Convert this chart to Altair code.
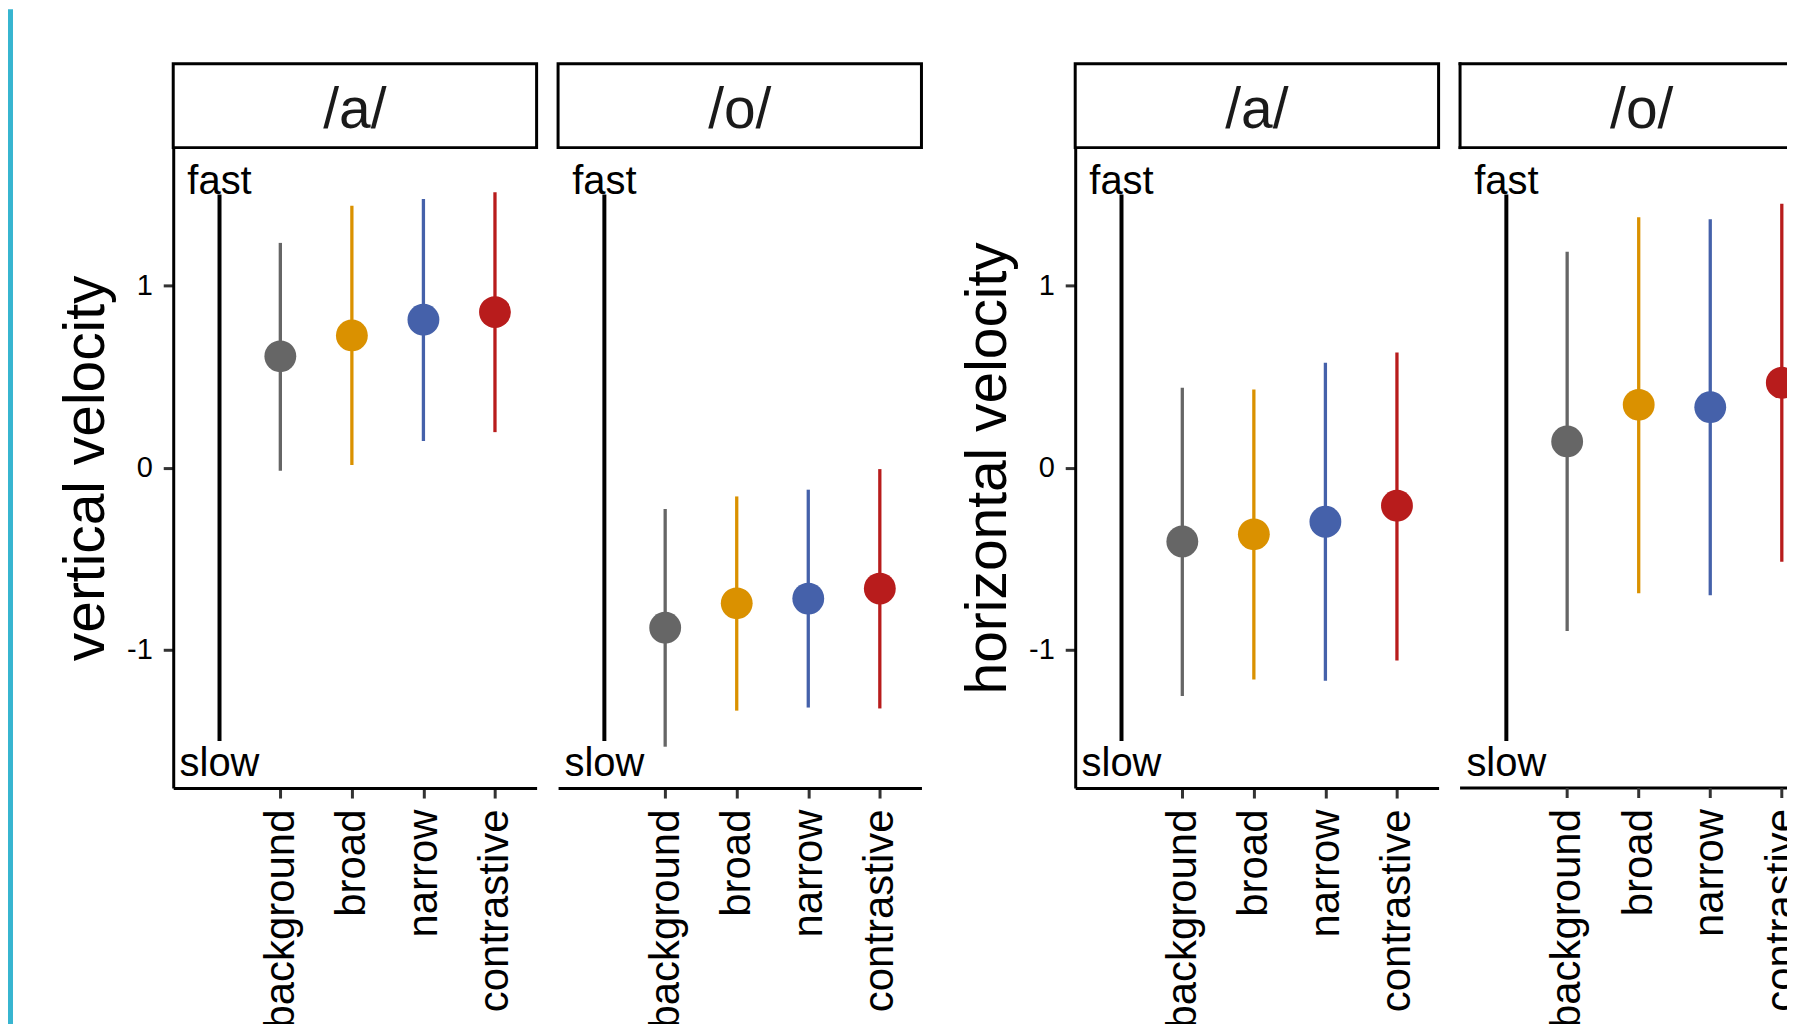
import altair as alt
import pandas as pd

# ---------------- data ----------------
focus = ["background", "broad", "narrow", "contrastive"]
focus_colors = ["#666666", "#DA9100", "#4561AA", "#B81C1C"]
vowels = ["/a/", "/o/"]
measures = ["vertical velocity", "horizontal velocity"]

vert_a_est = [0.612, 0.727, 0.813, 0.855]
vert_a_lo = [-0.016, 0.016, 0.148, 0.196]
vert_a_hi = [1.235, 1.439, 1.476, 1.513]

vert_o_est = [-0.878, -0.744, -0.718, -0.663]
vert_o_lo = [-1.531, -1.333, -1.316, -1.321]
vert_o_hi = [-0.226, -0.157, -0.120, -0.007]

horiz_a_est = [-0.404, -0.365, -0.296, -0.208]
horiz_a_lo = [-1.252, -1.162, -1.169, -1.058]
horiz_a_hi = [0.439, 0.430, 0.577, 0.633]

horiz_o_est = [0.145, 0.346, 0.333, 0.467]
horiz_o_lo = [-0.896, -0.688, -0.700, -0.515]
horiz_o_hi = [1.187, 1.376, 1.365, 1.450]

# fast/slow guide line
guide_x = [0.15]
guide_lo = [-1.5]
guide_hi = [1.5]
guide_labels = ["fast", "slow"]
guide_label_y = [1.505, -1.69]

y_ticks = [-1, 0, 1]

# ---------------- layout constants ----------------
W = 364            # full panel width
H = 641.5          # panel height
X_DOMAIN = [-0.497, 4.582]
FONT = "Liberation Sans"
TICK = "#333333"

y_domain = [-1.758, 1.758]
color_scale = alt.Scale(domain=focus, range=focus_colors)
label_expr = "[''," + ",".join("'" + f + "'" for f in focus) + "][datum.value]"


def x_axis():
    return alt.Axis(
        values=list(range(1, len(focus) + 1)), labelExpr=label_expr,
        labelAngle=270, labelAlign="right", labelBaseline="middle",
        labelFontSize=42, labelPadding=11, labelFont=FONT, labelColor="black",
        labelOverlap=False, labelFlush=False, labelLimit=2000,
        tickSize=10, tickWidth=3, tickColor=TICK,
        domainColor="black", domainWidth=3, grid=False, title=None,
    )


def y_axis(measure):
    return alt.Axis(
        values=y_ticks, labelExpr="'' + datum.value",
        labelFontSize=29, labelPadding=11, labelFont=FONT, labelColor="black",
        tickSize=10, tickWidth=3, tickColor=TICK,
        domainColor="black", domainWidth=3, grid=False,
        title=measure, titleFont=FONT, titleFontSize=57, titleFontWeight="normal",
        titleColor="black", titleAngle=270, titleAlign="center",
        titleBaseline="alphabetic", titleX=-70, titleY=H / 2,
    )


def panel(measure, vowel, est, lo, hi, show_axis, width=W, cut=False):
    # cut=True: panel runs off the right edge of the page (clipped there)
    x_hi = X_DOMAIN[0] + (X_DOMAIN[1] - X_DOMAIN[0]) * width / W
    x_scale = alt.Scale(domain=[X_DOMAIN[0], x_hi], nice=False, zero=False)
    view_h = H + 240 if cut else H
    y_scale = alt.Scale(domain=y_domain, nice=False, zero=False, range=[H, 0])
    yax = y_axis(measure) if show_axis else None
    X = alt.X("pos:Q", scale=x_scale, axis=None if cut else x_axis())

    def Y(field):
        return alt.Y(field, type="quantitative", scale=y_scale, axis=yax)

    df = pd.DataFrame({
        "focus": focus,
        "pos": list(range(1, len(focus) + 1)),
        "est": est, "lo": lo, "hi": hi,
    })
    guide = pd.DataFrame({"pos": guide_x, "lo": guide_lo, "hi": guide_hi})
    guide_txt = pd.DataFrame({"pos": guide_x * 2, "yy": guide_label_y,
                              "label": guide_labels})
    strip = pd.DataFrame({"vowel": [vowel]})

    layers = []
    if not cut:
        layers.append(alt.Chart(strip).mark_rect(
            fill="white", stroke="black", strokeWidth=3
        ).encode(x=alt.value(0), x2=alt.value(width), y=alt.value(-84), y2=alt.value(0)))
    else:
        layers.append(alt.Chart(strip).mark_rect(fill="white").encode(
            x=alt.value(0), x2=alt.value(width), y=alt.value(-84), y2=alt.value(0)))
        for yy in (-84, 0):
            layers.append(alt.Chart(strip).mark_rule(color="black", strokeWidth=3).encode(
                x=alt.value(-1.5), x2=alt.value(width), y=alt.value(yy)))
        layers.append(alt.Chart(strip).mark_rule(color="black", strokeWidth=3).encode(
            x=alt.value(0), y=alt.value(-85.5), y2=alt.value(1.5)))
    layers.append(alt.Chart(strip).mark_text(
        font=FONT, fontSize=57, align="center", baseline="alphabetic", color="#1a1a1a"
    ).encode(x=alt.value(W / 2), y=alt.value(-20), text="vowel:N"))

    layers.append(alt.Chart(guide).mark_rule(color="black", strokeWidth=4).encode(
        x=X, y=Y("lo"), y2=alt.Y2("hi")))
    layers.append(alt.Chart(guide_txt).mark_text(
        font=FONT, fontSize=40, align="center", baseline="alphabetic", color="black"
    ).encode(x=X, y=Y("yy"), text="label:N"))

    layers.append(alt.Chart(df).mark_rule(strokeWidth=3.3, clip=cut).encode(
        x=X, y=Y("lo"), y2=alt.Y2("hi"),
        color=alt.Color("focus:N", scale=color_scale, legend=None)))
    layers.append(alt.Chart(df).mark_circle(size=1018, opacity=1, clip=cut).encode(
        x=X, y=Y("est"),
        color=alt.Color("focus:N", scale=color_scale, legend=None)))

    if cut:
        # bottom axis drawn with marks so that it can be clipped at the page edge
        layers.append(alt.Chart(strip).mark_rule(color="black", strokeWidth=3).encode(
            x=alt.value(0), x2=alt.value(width), y=alt.value(H)))
        layers.append(alt.Chart(df).mark_rule(color=TICK, strokeWidth=3, clip=True).encode(
            x=X, y=alt.value(H), y2=alt.value(H + 10)))
        layers.append(alt.Chart(df).mark_text(
            font=FONT, fontSize=42, angle=270, align="right", baseline="middle",
            color="black", clip=True
        ).encode(x=X, y=alt.value(H + 21), text="focus:N"))

    return alt.layer(*layers).properties(width=width, height=view_h)


one = pd.DataFrame({"k": [0]})
cyan = alt.Chart(one).mark_rect(color="#37B5D0").encode(
    x=alt.value(0), x2=alt.value(5), y=alt.value(-138.5), y2=alt.value(880)
).properties(width=143.2, height=H)
spacer = alt.Chart(one).mark_point(opacity=0).encode(
    x=alt.value(0), y=alt.value(0)).properties(width=110.8, height=H)

p1 = panel(measures[0], vowels[0], vert_a_est, vert_a_lo, vert_a_hi, True)
p2 = panel(measures[0], vowels[1], vert_o_est, vert_o_lo, vert_o_hi, False)
p3 = panel(measures[1], vowels[0], horiz_a_est, horiz_a_lo, horiz_a_hi, True)
p4 = panel(measures[1], vowels[1], horiz_o_est, horiz_o_lo, horiz_o_hi, False,
           width=327.5, cut=True)

chart = alt.hconcat(
    cyan, p1, p2, spacer, p3, p4, spacing=21.5, bounds="flush"
).properties(
    padding={"left": 0, "top": 0, "right": 0, "bottom": 0}
).configure(font=FONT, background="white").configure_view(stroke=None)

chart.save("out.html", embed_options={"renderer": "svg", "actions": False})
